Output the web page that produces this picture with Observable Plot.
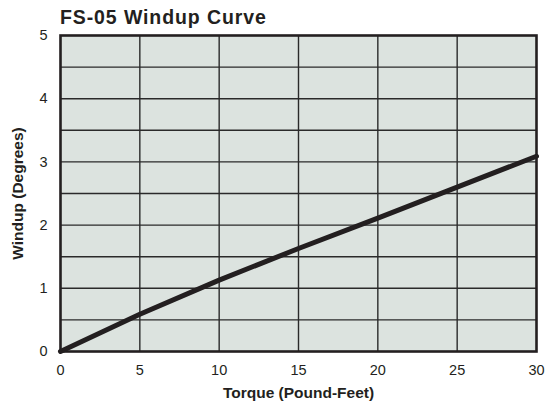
<!DOCTYPE html>
<html>
<head>
<meta charset="utf-8">
<script src="https://cdn.jsdelivr.net/npm/d3@7"></script>
<script src="https://cdn.jsdelivr.net/npm/@observablehq/plot@0.6"></script>
<style>
  html, body { margin: 0; padding: 0; background: #fff; }
  #wrap { position: relative; width: 545px; height: 406px; font-family: "Liberation Sans", Arial, sans-serif; }
  #title { position: absolute; left: 60px; top: 8px; font-size: 19.5px; line-height: 1; font-weight: bold; letter-spacing: 0.9px; color: #231f20; white-space: nowrap; }
</style>
</head>
<body>
<div id="wrap"><div id="title">FS-05 Windup Curve</div></div>
<script>
const torque = [0, 5, 10, 15, 20, 25, 30];
const windup = [0, 0.59, 1.13, 1.63, 2.11, 2.6, 3.09];
const xTicks = [0, 5, 10, 15, 20, 25, 30];
const yTicks = [0, 1, 2, 3, 4, 5];
const yGrid = [0.5, 1, 1.5, 2, 2.5, 3, 3.5, 4, 4.5];
const xGrid = [5, 10, 15, 20, 25];

const data = torque.map((t, i) => ({torque: t, windup: windup[i]}));

const chart = Plot.plot({
  width: 545,
  height: 406,
  marginLeft: 60,
  marginRight: 9,
  marginTop: 35,
  marginBottom: 55,
  style: {fontFamily: "'Liberation Sans', Arial, sans-serif", fontSize: "14.5px", color: "#231f20", background: "transparent"},
  x: {domain: [0, 30]},
  y: {domain: [0, 5]},
  marks: [
    Plot.frame({fill: "#dce3df", stroke: null}),
    Plot.ruleY(yGrid, {stroke: "#2a2a2a", strokeWidth: 1.4}),
    Plot.ruleX(xGrid, {stroke: "#2a2a2a", strokeWidth: 1.4}),
    Plot.frame({stroke: "#231f20", strokeWidth: 2.6}),
    Plot.axisX({ticks: xTicks, tickFormat: "d", tickSize: 0, tickPadding: 13, label: "Torque (Pound-Feet)", labelAnchor: "center", labelArrow: "none", labelOffset: 46, fontSize: 14.5}),
    Plot.axisY({ticks: yTicks, tickFormat: "d", tickSize: 0, tickPadding: 13, label: "Windup (Degrees)", labelAnchor: "center", labelArrow: "none", labelOffset: 49, fontSize: 14.5}),
    Plot.line(data, {x: "torque", y: "windup", stroke: "#231f20", strokeWidth: 5})
  ]
});
document.getElementById("wrap").appendChild(chart);
chart.querySelectorAll("[aria-label='x-axis label'] text, [aria-label='y-axis label'] text").forEach(t => {
  t.setAttribute("font-weight", "bold");
  t.setAttribute("font-size", "15.5");
});
</script>
</body>
</html>
